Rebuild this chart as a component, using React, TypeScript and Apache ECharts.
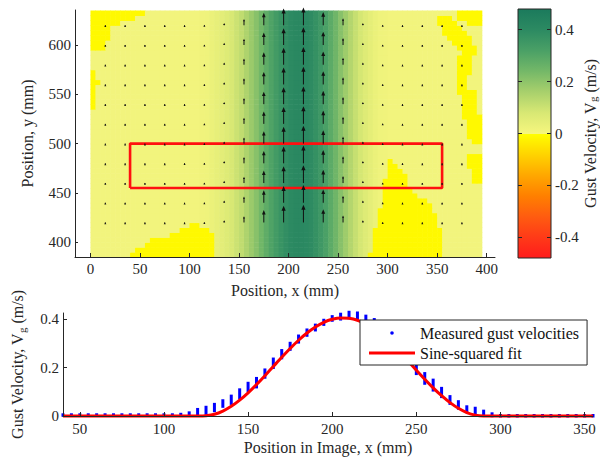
import React, { useEffect, useRef } from "react";
import * as echarts from "echarts";

// ---------------- Data ----------------
const topXTicks = [0, 50, 100, 150, 200, 250, 300, 350, 400];
const topYTicks = [400, 450, 500, 550, 600];
const bottomXTicks = [50, 100, 150, 200, 250, 300, 350];
const bottomYTicks = [0, 0.2, 0.4];
const colorbarTicks = [-0.4, -0.2, 0, 0.2, 0.4];

// gust velocity field: columns (5 mm wide cells, left edge in mm)
const heatX = [0, 5, 10, 15, 20, 25, 30, 35, 40, 45, 50, 55, 60, 65, 70, 75, 80, 85, 90, 95, 100,
  105, 110, 115, 120, 125, 130, 135, 140, 145, 150, 155, 160, 165, 170, 175, 180, 185, 190, 195,
  200, 205, 210, 215, 220, 225, 230, 235, 240, 245, 250, 255, 260, 265, 270, 275, 280, 285, 290, 295,
  300, 305, 310, 315, 320, 325, 330, 335, 340, 345, 350, 355, 360, 365, 370, 375, 380, 385, 390];
const heatV = [0.01, 0.01, 0.01, 0.01, 0.01, 0.01, 0.01, 0.01, 0.01, 0.01, 0.01, 0.01, 0.01, 0.01, 0.01, 0.01, 0.01, 0.01, 0.01, 0.01, 0.01,
  0.012, 0.015, 0.02, 0.03, 0.04, 0.05, 0.065, 0.08, 0.1, 0.12, 0.15, 0.18, 0.21, 0.245, 0.28, 0.31, 0.34, 0.365, 0.385,
  0.4, 0.41, 0.41, 0.405, 0.395, 0.375, 0.35, 0.32, 0.285, 0.25, 0.21, 0.175, 0.14, 0.11, 0.085, 0.065, 0.045, 0.03, 0.02, 0.015,
  0.01, 0.01, 0.01, 0.01, 0.01, 0.01, 0.01, 0.01, 0.01, 0.01, 0.01, 0.01, 0.01, 0.01, 0.01, 0.01, 0.01, 0.01, 0.01];
// rows (5 mm tall, bottom edge in mm)
const heatRowY = [385, 390, 395, 400, 405, 410, 415, 420, 425, 430, 435, 440, 445, 450, 455, 460, 465, 470, 475, 480,
  485, 490, 495, 500, 505, 510, 515, 520, 525, 530, 535, 540, 545, 550, 555, 560, 565, 570, 575, 580,
  585, 590, 595, 600, 605, 610, 615, 620, 625, 630];
// slightly negative (bright yellow) patches, outlines in mm
const patchOutlines = [
  [[2, 636], [58, 636], [55, 629], [40, 626], [30, 622], [20, 618], [18, 608], [14, 596], [6, 594], [0, 598], [0, 636]],
  [[0, 574], [7, 572], [8, 560], [5, 548], [7, 538], [0, 536]],
  [[40, 384], [42, 392], [55, 395], [60, 403], [75, 405], [88, 410], [95, 417], [108, 419], [120, 414], [126, 402], [125, 384]],
  [[282, 384], [284, 400], [288, 415], [290, 428], [295, 445], [297, 460], [299, 480], [303, 487], [307, 480], [318, 472],
    [320, 458], [330, 448], [343, 440], [350, 428], [353, 410], [353, 384]],
  [[350, 632], [362, 632], [370, 620], [385, 606], [390, 592], [378, 590], [368, 600], [356, 612], [350, 622]],
  [[366, 636], [396, 636], [396, 617], [385, 620], [372, 626]],
  [[368, 590], [387, 590], [385, 575], [380, 562], [384, 553], [380, 548], [368, 552], [370, 570]],
  [[373, 553], [388, 553], [390, 530], [378, 527], [375, 540]],
  [[377, 530], [396, 530], [396, 497], [385, 500], [380, 515]],
  [[380, 490], [396, 490], [396, 460], [385, 462]],
];
const patchValue = -0.012;

// quiver grid
const quiverX = [15, 35, 55, 75, 95, 115, 135, 155, 175, 195, 215, 235, 255, 275, 295, 315, 335, 355, 375];
const quiverY = [420, 440, 460, 480, 500, 520, 540, 560, 580, 600, 620];
const quiverV = [0.004, 0.004, 0.004, 0.004, 0.005, 0.012, 0.05, 0.14, 0.28, 0.38, 0.4, 0.3, 0.16, 0.05, 0.012, 0.005, 0.004, 0.004, 0.004];

// analysis box
const boxX = [40, 355];
const boxY = [455, 500];

// measured gust velocities (spread across the box rows at each x)
const measuredX = [40, 45, 50, 55, 60, 65, 70, 75, 80, 85, 90, 95, 100, 105, 110, 115, 120, 125, 130, 135,
  140, 145, 150, 155, 160, 165, 170, 175, 180, 185, 190, 195, 200, 205, 210, 215, 220, 225, 230, 235,
  240, 245, 250, 255, 260, 265, 270, 275, 280, 285, 290, 295, 300, 305, 310, 315, 320, 325, 330, 335,
  340, 345, 350, 355];
const measuredLow = [0.003, 0.003, 0.003, 0.003, 0.003, 0.003, 0.003, 0.003, 0.003, 0.003, 0.003, 0.003, 0.003, 0.003,
  0.004, 0.006, 0.008, 0.011, 0.022, 0.04, 0.052, 0.075, 0.105, 0.12, 0.16, 0.2, 0.24, 0.275, 0.305, 0.333,
  0.355, 0.378, 0.395, 0.4, 0.405, 0.4, 0.39, 0.372, 0.345, 0.31, 0.268, 0.222, 0.175, 0.135, 0.107, 0.08,
  0.052, 0.032, 0.018, 0.011, 0.006, 0.001,
  0, 0, 0, 0, 0, 0, 0, 0, 0, 0, 0, 0];
const measuredHigh = [0.005, 0.005, 0.005, 0.005, 0.005, 0.005, 0.005, 0.005, 0.005, 0.005, 0.005, 0.005, 0.005, 0.005,
  0.007, 0.013, 0.027, 0.036, 0.048, 0.063, 0.082, 0.108, 0.135, 0.155, 0.19, 0.235, 0.27, 0.3, 0.33, 0.355,
  0.375, 0.395, 0.41, 0.42, 0.428, 0.425, 0.412, 0.398, 0.375, 0.345, 0.3, 0.255, 0.205, 0.175, 0.148, 0.114,
  0.08, 0.059, 0.038, 0.032, 0.02, 0.009,
  0.002, 0.002, 0.002, 0.002, 0.002, 0.002, 0.002, 0.002, 0.002, 0.002, 0.002, 0.002];

// sine-squared fit
const fitX = [40, 123, 125, 130, 135, 140, 145, 150, 155, 160, 165, 170, 175, 180, 185, 190, 195, 200,
  205, 210, 215, 220, 225, 230, 235, 240, 245, 250, 255, 260, 265, 270, 275, 280, 285, 290, 355];
const fitV = [0, 0, 0.0006, 0.007, 0.0203, 0.04, 0.0655, 0.0958, 0.1298, 0.1665, 0.2044, 0.2423, 0.2786, 0.3125,
  0.3423, 0.3673, 0.3865, 0.3989, 0.4047, 0.4032, 0.3949, 0.3797, 0.358, 0.3309, 0.2993, 0.2645, 0.227,
  0.1891, 0.1517, 0.1161, 0.0836, 0.0553, 0.032, 0.0142, 0.0035, 0, 0];

// ---------------- Style ----------------
const FONT = "'Liberation Serif', 'Times New Roman', serif";
const INK = "#262626";
const QUIVER_SCALE = 45; // mm per m/s
const posStops: [number, string][] = [
  [0, "#f6f67e"], [0.08, "#d8e874"], [0.16, "#a8d06c"], [0.24, "#74b868"],
  [0.32, "#4aa066"], [0.4, "#2c8a62"], [0.48, "#1b7a5c"],
];
const negStops: [number, string][] = [
  [-0.48, "#ff1c1c"], [-0.4, "#ff3a18"], [-0.32, "#ff5c10"], [-0.24, "#ff8000"],
  [-0.16, "#ffa800"], [-0.08, "#ffd400"], [0, "#ffff00"],
];

function hexToRgb(h: string) {
  const n = parseInt(h.slice(1), 16);
  return [(n >> 16) & 255, (n >> 8) & 255, n & 255];
}
function colorFor(v: number): string {
  const stops = v < 0 ? negStops : posStops;
  const lo = stops[0][0];
  const hi = stops[stops.length - 1][0];
  const t = Math.min(hi, Math.max(lo, v));
  for (let i = 0; i < stops.length - 1; i++) {
    const [a, ca] = stops[i];
    const [b, cb] = stops[i + 1];
    if (t >= a && t <= b) {
      const f = b === a ? 0 : (t - a) / (b - a);
      const A = hexToRgb(ca);
      const B = hexToRgb(cb);
      const c = A.map((x, k) => Math.round(x + (B[k] - x) * f));
      return `rgb(${c[0]},${c[1]},${c[2]})`;
    }
  }
  return stops[stops.length - 1][1];
}
function inside(px: number, py: number, poly: number[][]) {
  let inn = false;
  for (let i = 0, j = poly.length - 1; i < poly.length; j = i++) {
    const [xi, yi] = poly[i];
    const [xj, yj] = poly[j];
    if (yi > py !== yj > py && px < ((xj - xi) * (py - yi)) / (yj - yi) + xi) inn = !inn;
  }
  return inn;
}

const tickLabel = { fontFamily: FONT, fontSize: 15, color: INK };
const nameStyle = {
  fontFamily: FONT,
  fontSize: 16,
  color: INK,
  lineHeight: 20,
  rich: {
    sub: { fontFamily: FONT, fontSize: 11, color: INK, verticalAlign: "bottom", lineHeight: 12 },
  },
};

function svgIcon(body: string) {
  const svg = `<svg xmlns="http://www.w3.org/2000/svg" width="46" height="14">${body}</svg>`;
  return "image://data:image/svg+xml;charset=utf-8," + encodeURIComponent(svg);
}

function buildOption() {
  const heatData: number[][] = [];
  heatRowY.forEach((y) => {
    heatX.forEach((x, i) => {
      const neg = patchOutlines.some((p) => inside(x + 2.5, y + 2.5, p));
      heatData.push([x, y, neg ? patchValue : heatV[i]]);
    });
  });

  const quiverData: number[][] = [];
  quiverY.forEach((y) => {
    quiverX.forEach((x, i) => quiverData.push([x, y, quiverV[i]]));
  });

  const boxData = [
    [boxX[0], boxY[0]], [boxX[1], boxY[0]], [boxX[1], boxY[1]], [boxX[0], boxY[1]], [boxX[0], boxY[0]],
  ];

  const measuredData = measuredX.map((x, i) => [x, measuredLow[i], measuredHigh[i]]);
  const fitData = fitX.map((x, i) => [x, fitV[i]]);

  const gradientStops: { offset: number; color: string }[] = [];
  [...posStops].reverse().forEach(([v, c]) => gradientStops.push({ offset: (0.48 - v) / 0.96, color: c }));
  [...negStops].reverse().forEach(([v, c]) => gradientStops.push({ offset: (0.48 - v) / 0.96, color: c }));

  const dotIcon = svgIcon('<circle cx="23" cy="7" r="1.8" fill="#0000ff"/>');
  const lineIcon = svgIcon('<rect x="0" y="5.5" width="46" height="3" fill="#ff0000"/>');

  return {
    animation: false,
    textStyle: { fontFamily: FONT },
    grid: [
      { left: 75, top: 10, width: 420, height: 247, outerBoundsMode: "none" },
      { left: 63, top: 313, width: 530, height: 103, outerBoundsMode: "none" },
      { left: 518, top: 9, width: 33, height: 249, outerBoundsMode: "none" },
    ],
    xAxis: [
      {
        gridIndex: 0, type: "value", min: -15.6, max: 408.4, z: 10,
        axisLine: { show: true, onZero: false, lineStyle: { color: INK } },
        axisTick: { show: true, inside: true, length: 4, customValues: topXTicks, lineStyle: { color: INK } },
        axisLabel: { ...tickLabel, customValues: topXTicks, margin: 4 },
        splitLine: { show: false },
        name: "Position, x (mm)", nameLocation: "middle", nameGap: 20, nameTextStyle: nameStyle,
      },
      {
        gridIndex: 1, type: "value", min: 40, max: 355, z: 10,
        axisLine: { show: true, onZero: false, lineStyle: { color: INK } },
        axisTick: { show: true, inside: true, length: 4, customValues: bottomXTicks, lineStyle: { color: INK } },
        axisLabel: { ...tickLabel, customValues: bottomXTicks, margin: 5 },
        splitLine: { show: false },
        name: "Position in Image, x (mm)", nameLocation: "middle", nameGap: 21, nameTextStyle: nameStyle,
      },
      { gridIndex: 2, type: "value", min: 0, max: 1, show: false },
    ],
    yAxis: [
      {
        gridIndex: 0, type: "value", min: 385, max: 635.5, z: 10,
        axisLine: { show: true, onZero: false, lineStyle: { color: INK } },
        axisTick: { show: true, inside: true, length: 3, customValues: topYTicks, lineStyle: { color: INK } },
        axisLabel: { ...tickLabel, customValues: topYTicks, margin: 4 },
        splitLine: { show: false },
        name: "Position, y (mm)", nameLocation: "middle", nameGap: 31, nameTextStyle: nameStyle,
      },
      {
        gridIndex: 1, type: "value", min: 0, max: 0.425, z: 10,
        axisLine: { show: true, onZero: false, lineStyle: { color: INK } },
        axisTick: { show: true, inside: true, length: 4, customValues: bottomYTicks, lineStyle: { color: INK } },
        axisLabel: { ...tickLabel, customValues: bottomYTicks, margin: 4 },
        splitLine: { show: false },
        name: "Gust Velocity, V{sub|g} (m/s)", nameLocation: "middle", nameGap: 36, nameTextStyle: nameStyle,
      },
      {
        gridIndex: 2, type: "value", position: "right", min: -0.48, max: 0.48, z: 10,
        axisLine: { show: false, onZero: false },
        axisTick: { show: true, inside: true, length: 4, customValues: colorbarTicks, lineStyle: { color: INK } },
        axisLabel: { ...tickLabel, customValues: colorbarTicks, margin: 4 },
        splitLine: { show: false },
        name: "Gust Velocity, V{sub|g} (m/s)", nameLocation: "middle", nameGap: 22,
        nameTextStyle: { ...nameStyle, lineHeight: 16 },
      },
      {
        gridIndex: 2, type: "value", position: "left", min: -0.48, max: 0.48, z: 10,
        axisLine: { show: false, onZero: false },
        axisTick: { show: true, inside: true, length: 4, customValues: colorbarTicks, lineStyle: { color: INK } },
        axisLabel: { show: false },
        splitLine: { show: false },
      },
    ],
    legend: {
      show: true,
      orient: "vertical",
      left: 360,
      top: 320,
      padding: [3, 8, 2, 9],
      itemGap: 0,
      itemWidth: 46,
      itemHeight: 14,
      selectedMode: false,
      backgroundColor: "#ffffff",
      borderColor: INK,
      borderWidth: 1,
      borderRadius: 0,
      textStyle: { fontFamily: FONT, fontSize: 16, color: "#111", lineHeight: 20 },
      data: [
        { name: "Measured gust velocities", icon: dotIcon },
        { name: "Sine-squared fit", icon: lineIcon },
      ],
    },
    series: [
      {
        name: "field",
        type: "custom",
        xAxisIndex: 0,
        yAxisIndex: 0,
        z: 1,
        silent: true,
        data: heatData,
        renderItem: (_p: any, api: any) => {
          const x = api.value(0);
          const y = api.value(1);
          const v = api.value(2);
          const a = api.coord([x, y + 5]);
          const b = api.coord([x + 5, y]);
          return {
            type: "rect",
            shape: { x: a[0], y: a[1], width: b[0] - a[0] + 0.6, height: b[1] - a[1] + 0.6 },
            style: { fill: colorFor(v) },
          };
        },
      },
      {
        name: "box",
        type: "line",
        xAxisIndex: 0,
        yAxisIndex: 0,
        z: 2,
        silent: true,
        symbol: "none",
        data: boxData,
        lineStyle: { color: "#ff1010", width: 2.6 },
      },
      {
        name: "quiver",
        type: "custom",
        xAxisIndex: 0,
        yAxisIndex: 0,
        z: 3,
        silent: true,
        data: quiverData,
        renderItem: (_p: any, api: any) => {
          const x = api.value(0);
          const y = api.value(1);
          const v = api.value(2);
          const tail = api.coord([x, y]);
          const tip = api.coord([x, y + v * QUIVER_SCALE]);
          const len = tail[1] - tip[1];
          const h = Math.max(2, Math.min(5, len * 0.35));
          const w = Math.max(1, h * 0.42);
          return {
            type: "group",
            children: [
              {
                type: "line",
                shape: { x1: tail[0], y1: tail[1], x2: tip[0], y2: tip[1] + h * 0.6 },
                style: { stroke: "#111", lineWidth: 1 },
              },
              {
                type: "polygon",
                shape: { points: [[tip[0], tip[1]], [tip[0] - w, tip[1] + h], [tip[0] + w, tip[1] + h]] },
                style: { fill: "#111" },
              },
            ],
          };
        },
      },
      {
        name: "Measured gust velocities",
        type: "custom",
        xAxisIndex: 1,
        yAxisIndex: 1,
        z: 2,
        clip: false,
        itemStyle: { color: "#0000ff" },
        data: measuredData,
        renderItem: (_p: any, api: any) => {
          const x = api.value(0);
          const lo = api.coord([x, api.value(1)]);
          const hi = api.coord([x, api.value(2)]);
          return {
            type: "rect",
            shape: { x: hi[0] - 1.5, y: hi[1] - 1.5, width: 3, height: lo[1] - hi[1] + 3 },
            style: { fill: "#0000ff" },
          };
        },
      },
      {
        name: "Sine-squared fit",
        type: "line",
        xAxisIndex: 1,
        yAxisIndex: 1,
        z: 3,
        clip: false,
        symbol: "none",
        smooth: 0.25,
        data: fitData,
        itemStyle: { color: "#ff0000" },
        lineStyle: { color: "#ff0000", width: 3 },
      },
      {
        name: "colorbar",
        type: "custom",
        xAxisIndex: 2,
        yAxisIndex: 2,
        z: 2,
        silent: true,
        data: [[0, 0]],
        renderItem: (_p: any, api: any) => {
          const a = api.coord([0, 0.48]);
          const b = api.coord([1, -0.48]);
          return {
            type: "rect",
            shape: { x: a[0], y: a[1], width: b[0] - a[0], height: b[1] - a[1] },
            style: {
              fill: { type: "linear", x: 0, y: 0, x2: 0, y2: 1, colorStops: gradientStops },
              stroke: INK,
              lineWidth: 1,
            },
          };
        },
      },
    ],
  };
}

export default function App() {
  const ref = useRef<HTMLDivElement>(null);
  useEffect(() => {
    document.body.style.margin = "0";
    const chart = echarts.init(ref.current as HTMLDivElement, null, { renderer: "svg" });
    chart.setOption(buildOption() as any);
    return () => chart.dispose();
  }, []);
  return <div ref={ref} style={{ width: 600, height: 459 }} />;
}
